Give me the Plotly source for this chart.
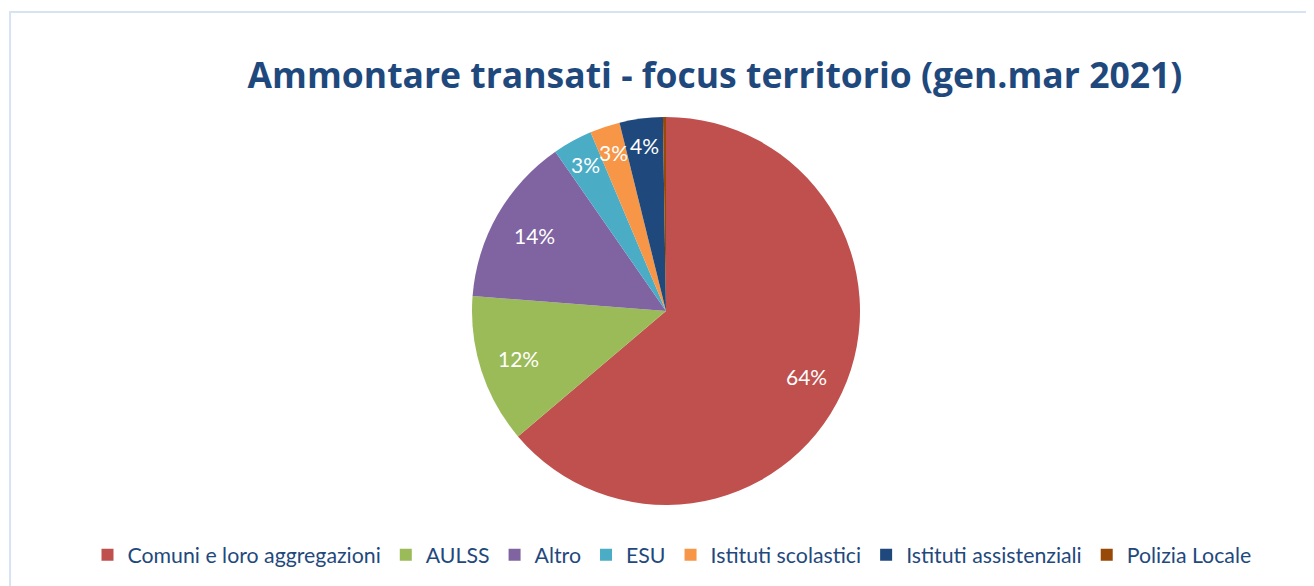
import math
import plotly.graph_objects as go

categories = ["Comuni e loro aggregazioni", "AULSS", "Altro", "ESU",
              "Istituti scolastici", "Istituti assistenziali", "Polizia Locale"]
values = [63.75, 12.4, 14.1, 3.3, 2.5, 3.6, 0.25]
colors = ["#C0504D", "#9BBB59", "#8064A2", "#4BACC6", "#F79646", "#1F497D", "#984807"]
label_radius = [0.8, 0.8, 0.78, 0.86, 0.86, 0.86, None]

OFF = 8  # page body margin
W, H = 1314 - OFF, 586 - OFF
cx, cy, R = 666 - OFF, 311 - OFF, 194

fig = go.Figure(go.Pie(
    labels=categories, values=values, sort=False, direction="clockwise", rotation=0,
    marker=dict(colors=colors, line=dict(width=0)),
    textinfo="none", hoverinfo="label+percent",
    domain=dict(x=[(cx - R) / W, (cx + R) / W], y=[(H - cy - R) / H, (H - cy + R) / H]),
))

total = sum(values)
cum = 0
annotations = []
for v, rr in zip(values, label_radius):
    mid = (cum + v / 2) / total * 2 * math.pi
    cum += v
    if rr is None:
        continue
    px = cx + rr * R * math.sin(mid)
    py = cy - rr * R * math.cos(mid)
    annotations.append(dict(
        x=px / W, y=(H - py) / H, xref="paper", yref="paper",
        xanchor="center", yanchor="middle",
        text=f"{round(v / total * 100)}%", showarrow=False,
        font=dict(family="Lato, Open Sans, sans-serif", size=21, color="white"),
    ))

fig.update_layout(
    width=W, height=H,
    margin=dict(l=0, r=0, t=0, b=0),
    paper_bgcolor="white", plot_bgcolor="white",
    title=dict(text="<b>Ammontare transati - focus territorio (gen.mar 2021)</b>",
               x=(715 - OFF) / W, xanchor="center", y=(H - (76 - OFF)) / H, yanchor="middle",
               font=dict(family="Open Sans, sans-serif", size=35.5, color="#1F497D")),
    legend=dict(orientation="h", x=(672 - OFF) / W, xanchor="center", y=(H - (555 - OFF)) / H,
                yanchor="middle",
                font=dict(family="Lato, Open Sans, sans-serif", size=21.3, color="#1F497D"),
                itemsizing="constant", itemwidth=30),
    annotations=annotations,
    shapes=[dict(type="rect", xref="paper", yref="paper",
                 x0=(9 - OFF) / W + 0.0008, x1=1.01, y0=-0.02, y1=(H - (12 - OFF)) / H,
                 line=dict(color="#D6E3F2", width=2))],
)

fig.write_html("out.html")
